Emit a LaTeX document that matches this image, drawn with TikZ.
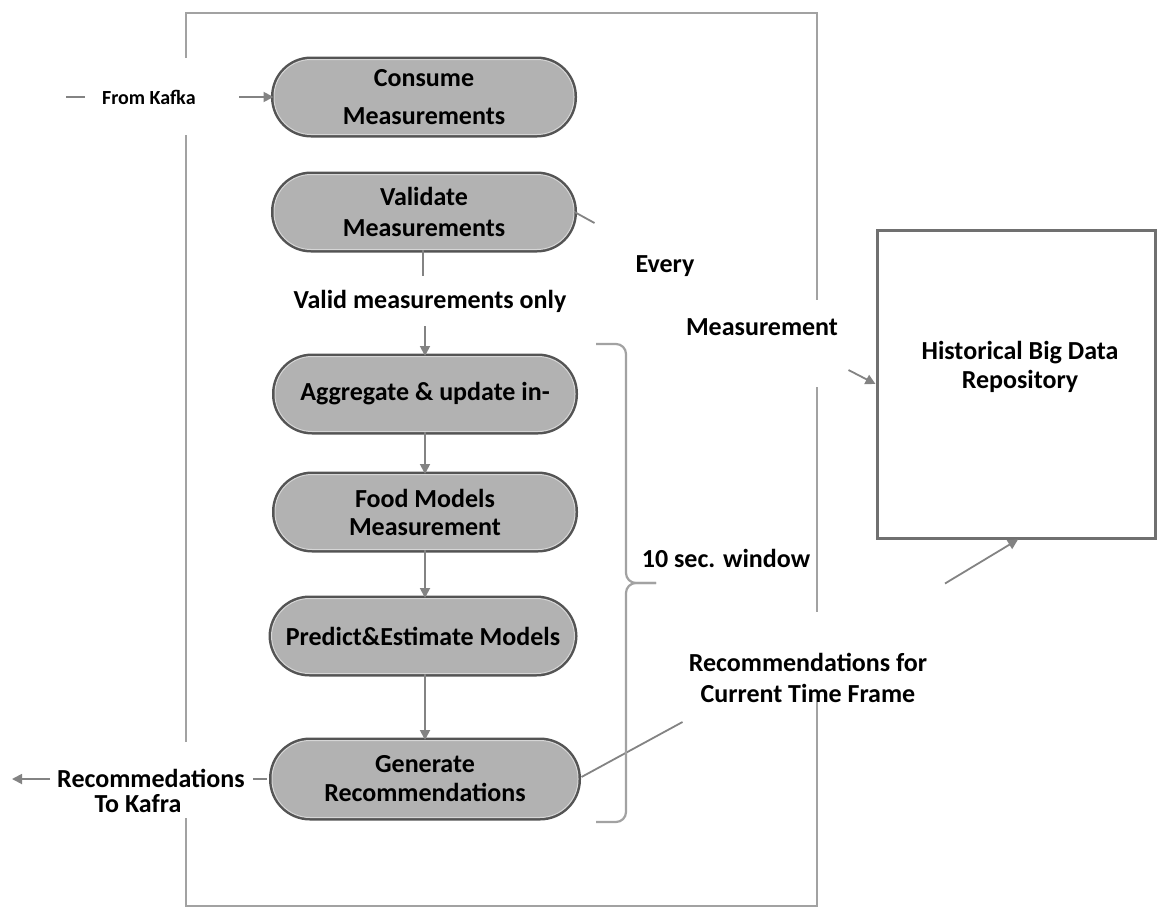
\documentclass[tikz,border=0pt]{standalone}
\usepackage{fontspec}
\setmainfont{Carlito}
\usetikzlibrary{arrows.meta,calc}

\definecolor{pillfill}{HTML}{B2B2B2}
\definecolor{pilledge}{HTML}{545454}
\definecolor{pillhi}{HTML}{D6D6D6}
\definecolor{wire}{HTML}{838383}
\definecolor{framegray}{HTML}{A2A2A2}
\definecolor{boxedge}{HTML}{707070}

\newcommand{\txt}[1]{\bfseries\fontsize{26}{#1}\selectfont}

\begin{document}
\begin{tikzpicture}[x=1pt,y=-1pt,
  font=\txt{30},
  pill/.style={fill=pillfill, draw=pillhi, line width=1pt,
    preaction={draw=pilledge, line width=6pt},
    rounded corners=37pt, minimum width=300pt, minimum height=75pt,
    align=center, inner sep=0pt},
  flow/.style={draw=wire, line width=1.8pt, -{Triangle[length=10pt,width=10pt]}},
  plain/.style={draw=wire, line width=1.8pt},
  framepart/.style={draw=framegray, line width=2.6pt},
  lbl/.style={align=center, inner sep=0pt},
  bracestyle/.style={draw=framegray, line width=2.2pt, rounded corners=10pt}]

\useasboundingbox (0,0) rectangle (1160,908);

% outer frame (broken where the inputs and outputs pass)
\coordinate (ftl) at (186,13);
\coordinate (ftr) at (817,13);
\coordinate (fbl) at (186,906);
\coordinate (fbr) at (817,906);
\draw[framepart] (186,58) -- (ftl) -- (ftr) -- (817,300);
\draw[framepart] (817,387) -- (817,612);
\draw[framepart] (817,702) -- (fbr) -- (fbl) -- (186,818);
\draw[framepart] (186,742) -- (186,135);

% processing steps
\node[pill, font=\txt{38}] (consume) at (424,97) {Consume\\Measurements};
\node[pill, font=\txt{31}] (validate) at (424,212) {Validate\\Measurements};
\node[pill] (aggregate) at (425,394) {Aggregate \& update in-};
\node[pill, font=\txt{28}] (food) at (425,512) {Food Models\\Measurement};
\node[pill, minimum width=303pt, rounded corners=38pt] (predict) at (423,636) {Predict\&Estimate Models};
\node[pill, minimum height=77pt, minimum width=306pt, rounded corners=38pt,
      font=\txt{29}] (generate) at (425,779) {Generate\\Recommendations};

% repository
\node[draw=boxedge, line width=3pt, minimum width=278pt, minimum height=308pt, inner sep=0pt] (repo) at (1016,384) {};
\node[lbl, font=\txt{29}] (repotext) at (1020,367) {Historical Big Data\\Repository};

% labels
\node[lbl, font=\bfseries\fontsize{20}{24}\selectfont] (fromkafka) at (149,97) {From Kafka};
\node[lbl] (valid) at (430,301) {Valid measurements only};
\node[lbl] (every) at (665,266) {Every};
\node[lbl] (meas) at (762,327) {Measurement};
\node[lbl] (window) at (726,558) {10 sec. window};
\node[lbl, font=\txt{31}] (recs) at (808,678) {Recommendations for\\Current Time Frame};
\node[lbl, font=\txt{25}] (tokafra) at (151,791) {Recommedations\\To Kafra\hspace*{26pt}};

% input from Kafka
\coordinate (kin) at (66,97);
\draw[plain] (kin) -- ++(19,0);
\draw[flow, shorten <=43pt] (fromkafka.east) -- (consume.west);

% main flow
\draw[plain] (validate.south -| valid.north) ++(-7,0) -- ++(0,26);
\draw[flow] (valid.south -| aggregate.north) ++(0,14) -- (aggregate.north);
\draw[flow] (aggregate.south) -- (food.north);
\draw[flow] (food.south) -- (food.south |- predict.north);
\draw[flow] (predict.south -| generate.north) -- (generate.north);

% every measurement to the repository
\draw[plain] (validate.east) -- ++(20,11);
\draw[flow] (repo.west) ++(-27,-14) -- (repo.west);

% recommendations for the current time frame
\draw[plain] ($(generate.east)+(3,-2)$) -- ++(101,-55);
\draw[flow] ($(repo.south)+(2,0)$) ++(-73,44) -- ($(repo.south)+(2,0)$);

% output to Kafka
\coordinate (kout) at (12,779);
\draw[plain] (generate.west) ++(-5,0) -- ++(-14,0);
\draw[flow] (kout) ++(38,0) -- (kout);

% ten second window brace
\coordinate (btop) at (596,344);
\coordinate (btip) at (656,583);
\coordinate (bbot) at (596,822);
\draw[bracestyle] (btop) -| (626,583) -- (btip);
\draw[bracestyle] (btip) -- (626,583) |- (bbot);
\end{tikzpicture}
\end{document}
